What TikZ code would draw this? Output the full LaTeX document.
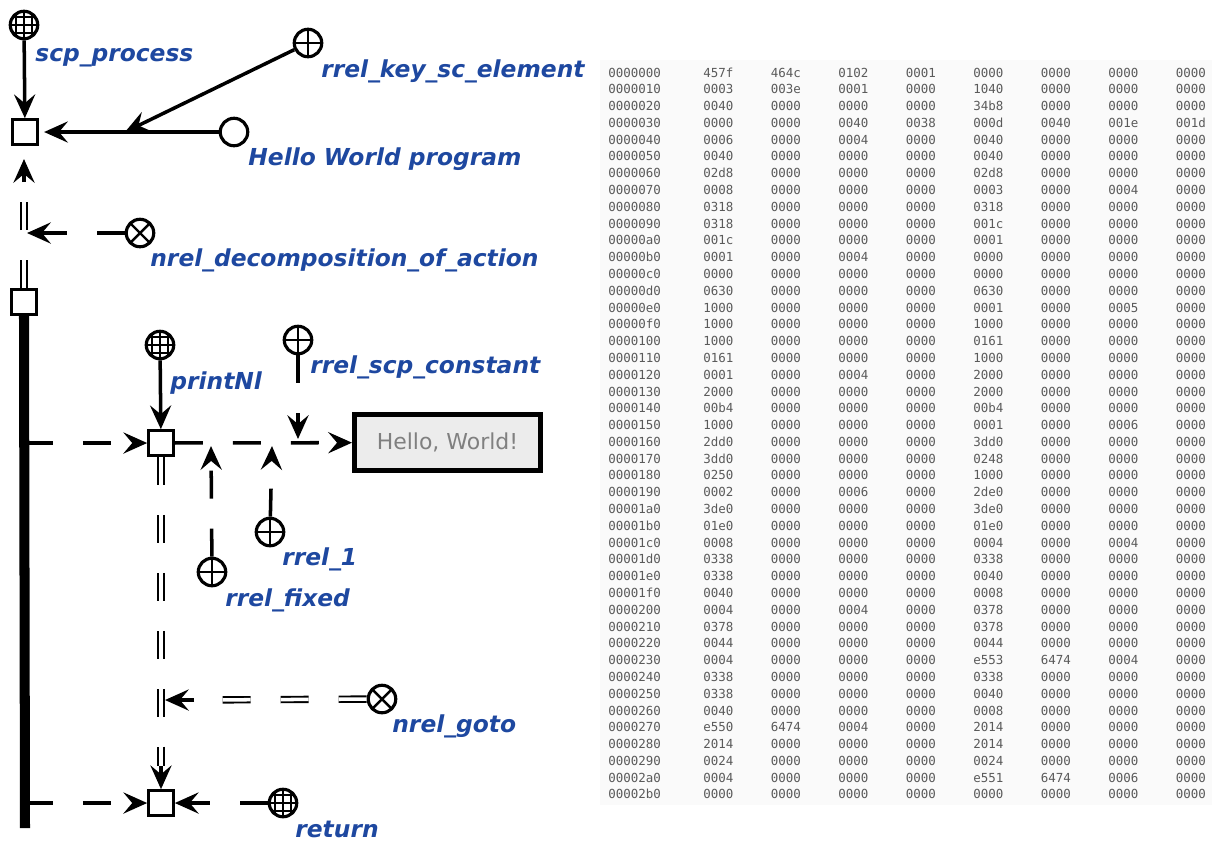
\documentclass[tikz,border=0pt]{standalone}
\usepackage{fontspec}
\setmainfont{DejaVu Sans}
\setsansfont{DejaVu Sans}
\setmonofont{DejaVu Sans Mono}
\usetikzlibrary{arrows.meta,calc}

\definecolor{scblue}{RGB}{30,72,160}
\definecolor{hexgray}{RGB}{90,90,90}
\definecolor{linkfill}{RGB}{236,236,236}

\tikzset{
  sc/.style={draw, line width=1.8pt, inner sep=0pt},
  scnode/.style={sc, circle, minimum size=0.55cm},
  scclass/.style={scnode, path picture={
      \foreach \s in {-4.5,0,4.5}{
        \draw[line width=1pt] ([xshift=\s pt]path picture bounding box.north) -- ([xshift=\s pt]path picture bounding box.south);
        \draw[line width=1pt] ([yshift=\s pt]path picture bounding box.west) -- ([yshift=\s pt]path picture bounding box.east);
      }}},
  scrole/.style={scnode, path picture={
      \draw[line width=1.4pt] (path picture bounding box.north) -- (path picture bounding box.south);
      \draw[line width=1.4pt] (path picture bounding box.west) -- (path picture bounding box.east);}},
  scnorole/.style={scnode, path picture={
      \draw[line width=1.4pt] (path picture bounding box.north west) -- (path picture bounding box.south east);
      \draw[line width=1.4pt] (path picture bounding box.north east) -- (path picture bounding box.south west);}},
  scact/.style={sc, rectangle, minimum size=0.49cm},
  sclink/.style={draw, line width=2.6pt, fill=linkfill, text=gray, inner sep=0pt,
      minimum width=3.73cm, minimum height=1.13cm, font=\fontsize{12.5}{14}\selectfont,
      path picture={\fill (path picture bounding box.north west) -- ++(0.16cm,0) -- ++(-0.16cm,-0.16cm) -- cycle;}},
  sclabel/.style={anchor=base west, inner sep=0pt, text=scblue, font=\sffamily\bfseries\itshape\fontsize{13.3}{15}\selectfont},
  scarc/.style={line width=2pt, -{Stealth[length=13.5pt,width=12pt,inset=5pt]}},
  scvarc/.style={scarc, dash pattern=on 16pt off 17pt},
  sccommon/.style={line width=1.1pt, double, double distance=2pt, dash pattern=on 16pt off 17pt},
  hexcell/.style={anchor=base west, inner sep=0pt, text=hexgray, font=\ttfamily\fontsize{7.1}{8}\selectfont},
}

\begin{document}
\begin{tikzpicture}[x=0.02cm, y=-0.02cm]
    \useasboundingbox (0,0) rectangle (1212,840);

    % process and its arguments
    \node[scclass] (proc) at (24,25) {};
    \node[scact] (act) at (25,132) {};
    \node[scrole] (key) at (308,43) {};
    \node[scnode] (prog) at (234,132) {};
    \node[sclabel] (procL) at (35,61) {scp\_process};
    \node[sclabel] (keyL) at (321,77) {rrel\_key\_sc\_element};
    \node[sclabel] (progL) at (248,165) {Hello World program};
    \coordinate (keyPt) at (125,132);
    \draw[scarc] (proc) -- (act);
    \draw[scarc, shorten >=3pt] (prog) -- (act);
    \draw[scarc] (key) -- (keyPt);

    % decomposition
    \node[scact] (sub) at (24,302) {};
    \node[scnorole] (decomp) at (140,233) {};
    \node[sclabel] (decompL) at (150,266) {nrel\_decomposition\_of\_action};
    \coordinate (decEnd) at (24,182);
    \coordinate (decTip) at (24,159);
    \coordinate (decPt) at (27,233);
    \coordinate (busEnd) at (25,828);
    \draw[sccommon] (sub) -- (decEnd);
    \draw[scarc] (decEnd) -- (decTip);
    \draw[scvarc] (decomp) -- (decPt);
    \draw[line width=5.7pt] (sub.south) -- (busEnd);

    % printNl operator
    \node[scclass] (printNl) at (160,345) {};
    \node[scact] (pn) at (161,443) {};
    \node[scrole] (const) at (298,340) {};
    \node[sclink] (hw) at (447.5,442.5) {Hello, World!};
    \node[scrole] (one) at (270,532) {};
    \node[scrole] (fixed) at (212,572) {};
    \node[sclabel] (printNlL) at (170,389) {printNl};
    \node[sclabel] (constL) at (310,373) {rrel\_scp\_constant};
    \node[sclabel] (oneL) at (282,565) {rrel\_1};
    \node[sclabel] (fixedL) at (225,606) {rrel\_fixed};
    \coordinate (busA) at (25,443);
    \coordinate (constPt) at (298,439);
    \coordinate (onePt) at (272,446);
    \coordinate (fixedPt) at (211,446);
    \draw[scvarc] (busA) -- (pn);
    \draw[scarc] (printNl) -- (pn);
    \draw[scvarc] (pn) -- (hw);
    \draw[scvarc] (const) -- (constPt);
    \draw[scvarc] (one) -- (onePt);
    \draw[scvarc] (fixed) -- (fixedPt);

    % return operator
    \node[scact] (ret) at (161,803) {};
    \node[scclass] (retcls) at (283,803) {};
    \node[scnorole] (goto) at (382,699) {};
    \node[sclabel] (gotoL) at (392,732) {nrel\_goto};
    \node[sclabel] (retL) at (295,837) {return};
    \coordinate (busB) at (25,803);
    \coordinate (retEnd) at (161,766);
    \coordinate (gotoEnd) at (194,700);
    \coordinate (gotoPt) at (165,700);
    \draw[sccommon] (pn) -- (retEnd);
    \draw[scarc] (retEnd) -- (ret);
    \draw[sccommon] (goto) -- (gotoEnd);
    \draw[scarc] (gotoEnd) -- (gotoPt);
    \draw[scvarc] (retcls) -- (ret);
    \draw[scvarc] (busB) -- (ret);

    % hex dump
    \fill[black!2] (600,60) rectangle (1212,805);
    \foreach \row [count=\r from 0] in {
      {0000000,457f,464c,0102,0001,0000,0000,0000,0000},
      {0000010,0003,003e,0001,0000,1040,0000,0000,0000},
      {0000020,0040,0000,0000,0000,34b8,0000,0000,0000},
      {0000030,0000,0000,0040,0038,000d,0040,001e,001d},
      {0000040,0006,0000,0004,0000,0040,0000,0000,0000},
      {0000050,0040,0000,0000,0000,0040,0000,0000,0000},
      {0000060,02d8,0000,0000,0000,02d8,0000,0000,0000},
      {0000070,0008,0000,0000,0000,0003,0000,0004,0000},
      {0000080,0318,0000,0000,0000,0318,0000,0000,0000},
      {0000090,0318,0000,0000,0000,001c,0000,0000,0000},
      {00000a0,001c,0000,0000,0000,0001,0000,0000,0000},
      {00000b0,0001,0000,0004,0000,0000,0000,0000,0000},
      {00000c0,0000,0000,0000,0000,0000,0000,0000,0000},
      {00000d0,0630,0000,0000,0000,0630,0000,0000,0000},
      {00000e0,1000,0000,0000,0000,0001,0000,0005,0000},
      {00000f0,1000,0000,0000,0000,1000,0000,0000,0000},
      {0000100,1000,0000,0000,0000,0161,0000,0000,0000},
      {0000110,0161,0000,0000,0000,1000,0000,0000,0000},
      {0000120,0001,0000,0004,0000,2000,0000,0000,0000},
      {0000130,2000,0000,0000,0000,2000,0000,0000,0000},
      {0000140,00b4,0000,0000,0000,00b4,0000,0000,0000},
      {0000150,1000,0000,0000,0000,0001,0000,0006,0000},
      {0000160,2dd0,0000,0000,0000,3dd0,0000,0000,0000},
      {0000170,3dd0,0000,0000,0000,0248,0000,0000,0000},
      {0000180,0250,0000,0000,0000,1000,0000,0000,0000},
      {0000190,0002,0000,0006,0000,2de0,0000,0000,0000},
      {00001a0,3de0,0000,0000,0000,3de0,0000,0000,0000},
      {00001b0,01e0,0000,0000,0000,01e0,0000,0000,0000},
      {00001c0,0008,0000,0000,0000,0004,0000,0004,0000},
      {00001d0,0338,0000,0000,0000,0338,0000,0000,0000},
      {00001e0,0338,0000,0000,0000,0040,0000,0000,0000},
      {00001f0,0040,0000,0000,0000,0008,0000,0000,0000},
      {0000200,0004,0000,0004,0000,0378,0000,0000,0000},
      {0000210,0378,0000,0000,0000,0378,0000,0000,0000},
      {0000220,0044,0000,0000,0000,0044,0000,0000,0000},
      {0000230,0004,0000,0000,0000,e553,6474,0004,0000},
      {0000240,0338,0000,0000,0000,0338,0000,0000,0000},
      {0000250,0338,0000,0000,0000,0040,0000,0000,0000},
      {0000260,0040,0000,0000,0000,0008,0000,0000,0000},
      {0000270,e550,6474,0004,0000,2014,0000,0000,0000},
      {0000280,2014,0000,0000,0000,2014,0000,0000,0000},
      {0000290,0024,0000,0000,0000,0024,0000,0000,0000},
      {00002a0,0004,0000,0000,0000,e551,6474,0006,0000},
      {00002b0,0000,0000,0000,0000,0000,0000,0000,0000}}
      \foreach \w [count=\k from 0] in \row
        \node[hexcell] (h\r-\k) at ({ifthenelse(\k==0,608,635.5+67.5*\k)},{77+16.79*\r}) {\w};
\end{tikzpicture}
\end{document}
